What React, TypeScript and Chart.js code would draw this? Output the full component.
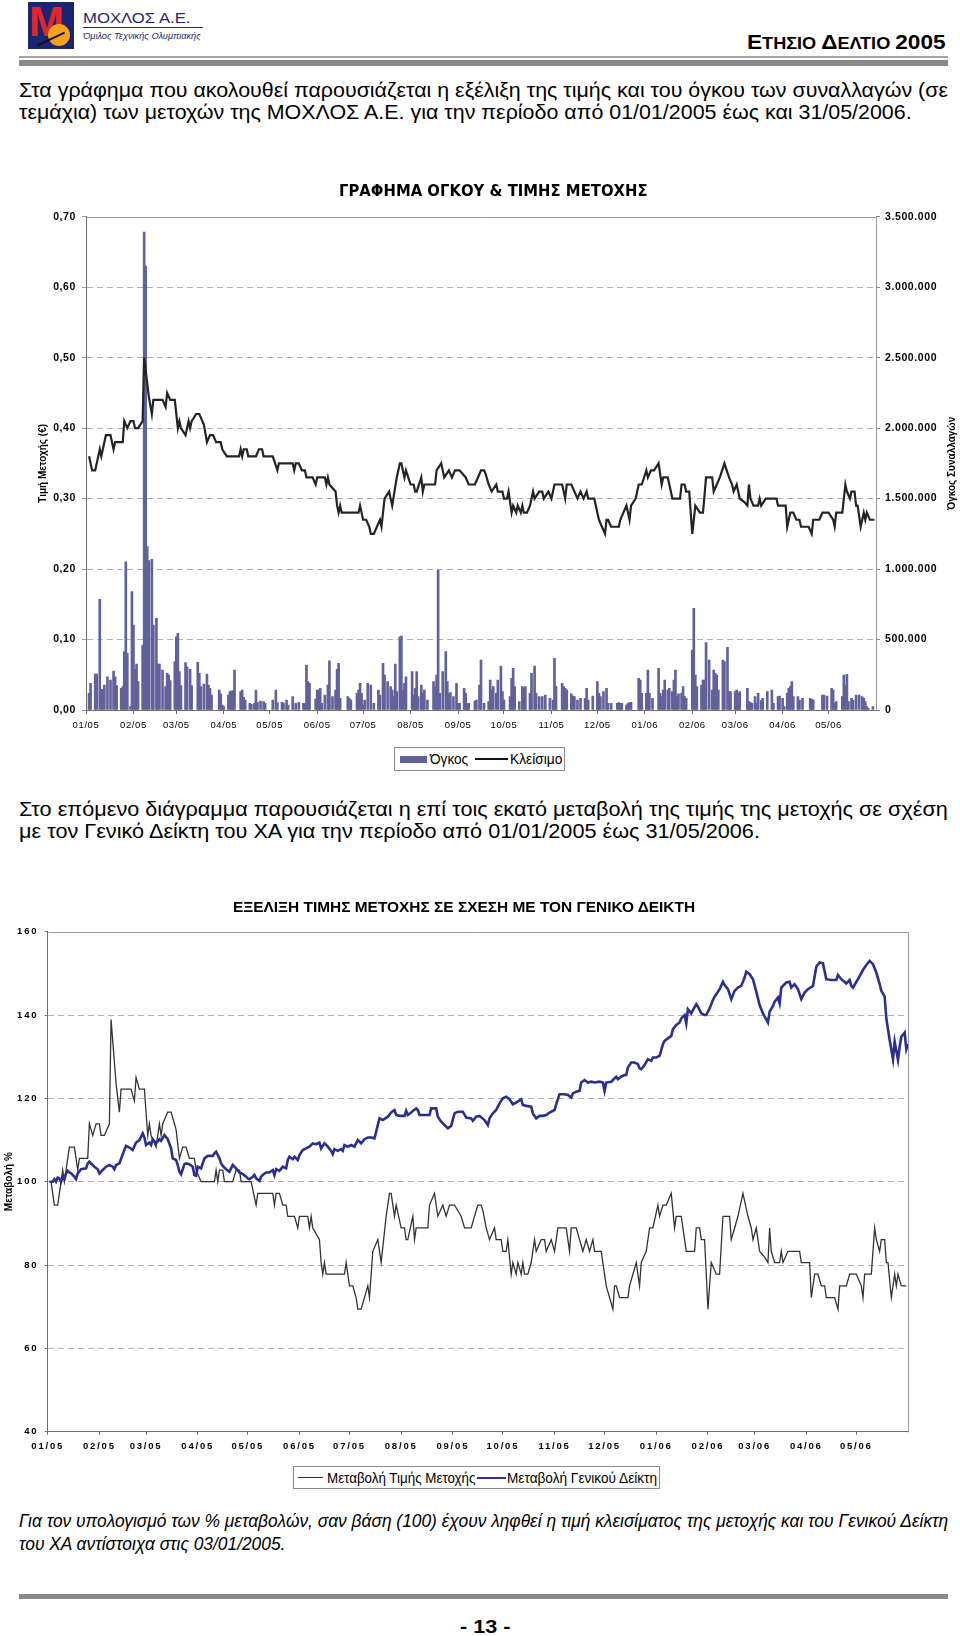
import React, { useEffect, useLayoutEffect, useRef, useState } from 'react';
import { Chart, registerables } from 'chart.js';

Chart.register(...registerables);

// ---------- DATA (days = calendar days since 01/01/2005) ----------
const monthLabels = ['01/05', '02/05', '03/05', '04/05', '05/05', '06/05', '07/05', '08/05', '09/05', '10/05', '11/05', '12/05', '01/06', '02/06', '03/06', '04/06', '05/06'];

const priceDays = [
  2, 4, 6, 9, 10, 13, 16, 18, 19, 24,
  25, 27, 29, 31, 32, 34, 37, 38, 41, 43,
  44, 50, 52, 53, 55, 58, 60, 61, 62, 65,
  67, 68, 69, 72, 74, 76, 77, 79, 81, 83,
  85, 88, 89, 92, 100, 101, 102, 103, 105, 106,
  111, 113, 115, 116, 122, 125, 126, 128, 135, 136,
  137, 139, 141, 143, 144, 148, 150, 151, 156, 157,
  158, 159, 163, 164, 165, 166, 167, 178, 179, 181,
  183, 185, 186, 188, 192, 193, 195, 198, 200, 203,
  205, 206, 208, 209, 212, 214, 215, 216, 219, 220,
  221, 228, 229, 232, 234, 237, 239, 241, 244, 248,
  250, 254, 256, 258, 260, 261, 263, 265, 268, 269,
  272, 273, 275, 276, 278, 279, 281, 282, 284, 285,
  286, 288, 290, 292, 293, 296, 298, 299, 302, 304,
  306, 311, 313, 314, 317, 319, 321, 323, 325, 327,
  328, 332, 334, 335, 337, 339, 340, 341, 343, 348,
  349, 351, 353, 355, 356, 359, 361, 363, 366, 367,
  369, 371, 374, 376, 377, 380, 383, 388, 389, 391,
  392, 394, 396, 398, 401, 403, 405, 409, 410, 412,
  414, 417, 420, 422, 423, 425, 426, 427, 430, 432,
  433, 434, 436, 439, 440, 441, 444, 451, 452, 457,
  458, 460, 462, 464, 466, 467, 472, 474, 475, 479,
  481, 485, 488, 489, 490, 494, 496, 497, 499, 500,
  502, 503, 504, 506, 508, 509, 510, 512, 515,
];
const closePrice = [
  0.36, 0.34, 0.34, 0.37, 0.36, 0.39, 0.39, 0.37, 0.38, 0.38,
  0.41, 0.40, 0.41, 0.41, 0.40, 0.40, 0.41, 0.50, 0.445, 0.42,
  0.44, 0.44, 0.43, 0.45, 0.44, 0.44, 0.40, 0.41, 0.40, 0.39,
  0.41, 0.40, 0.41, 0.42, 0.42, 0.41, 0.405, 0.38, 0.39, 0.39,
  0.38, 0.38, 0.37, 0.36, 0.36, 0.37, 0.36, 0.37, 0.37, 0.36,
  0.36, 0.37, 0.37, 0.36, 0.36, 0.34, 0.35, 0.35, 0.35, 0.34,
  0.35, 0.35, 0.34, 0.34, 0.33, 0.33, 0.32, 0.33, 0.33, 0.32,
  0.33, 0.32, 0.31, 0.29, 0.28, 0.29, 0.28, 0.28, 0.29, 0.27,
  0.27, 0.26, 0.25, 0.25, 0.27, 0.26, 0.30, 0.31, 0.29, 0.33,
  0.35, 0.35, 0.33, 0.34, 0.32, 0.32, 0.31, 0.31, 0.33, 0.31,
  0.32, 0.32, 0.34, 0.35, 0.33, 0.34, 0.33, 0.34, 0.34, 0.33,
  0.32, 0.32, 0.33, 0.34, 0.34, 0.335, 0.32, 0.31, 0.32, 0.31,
  0.31, 0.30, 0.30, 0.31, 0.28, 0.29, 0.28, 0.29, 0.28, 0.29,
  0.28, 0.28, 0.29, 0.31, 0.30, 0.31, 0.31, 0.30, 0.31, 0.30,
  0.32, 0.32, 0.30, 0.32, 0.32, 0.31, 0.30, 0.31, 0.30, 0.31,
  0.30, 0.30, 0.28, 0.27, 0.26, 0.25, 0.27, 0.27, 0.26, 0.26,
  0.27, 0.28, 0.29, 0.27, 0.29, 0.30, 0.32, 0.32, 0.34, 0.33,
  0.34, 0.34, 0.35, 0.32, 0.33, 0.33, 0.30, 0.30, 0.32, 0.32,
  0.31, 0.31, 0.25, 0.29, 0.28, 0.28, 0.33, 0.33, 0.31, 0.32,
  0.33, 0.35, 0.33, 0.32, 0.31, 0.32, 0.31, 0.30, 0.295, 0.29,
  0.32, 0.30, 0.29, 0.29, 0.30, 0.29, 0.30, 0.30, 0.29, 0.29,
  0.26, 0.28, 0.28, 0.27, 0.27, 0.26, 0.26, 0.25, 0.27, 0.27,
  0.28, 0.28, 0.27, 0.26, 0.28, 0.28, 0.32, 0.31, 0.30, 0.31,
  0.31, 0.29, 0.29, 0.26, 0.28, 0.27, 0.28, 0.27, 0.27,
];

const volDays = [
  2, 3, 6, 7, 9, 10, 11, 12, 14, 16,
  18, 19, 20, 23, 24, 25, 26, 27, 29, 30,
  31, 32, 33, 34, 37, 38, 39, 40, 41, 43,
  44, 46, 47, 48, 50, 52, 53, 54, 55, 58,
  59, 60, 61, 62, 65, 66, 68, 69, 73, 74,
  75, 77, 79, 80, 81, 82, 87, 88, 89, 90,
  93, 94, 95, 96, 97, 101, 102, 103, 104, 107,
  108, 110, 111, 112, 114, 116, 117, 122, 124, 125,
  128, 129, 131, 132, 135, 137, 139, 142, 143, 144,
  145, 146, 150, 151, 152, 153, 154, 156, 158, 159,
  161, 163, 164, 165, 166, 171, 172, 173, 177, 178,
  179, 180, 181, 182, 184, 186, 188, 191, 192, 194,
  195, 197, 199, 200, 201, 202, 203, 205, 206, 207,
  208, 209, 213, 214, 215, 216, 217, 219, 220, 221,
  223, 227, 228, 229, 230, 231, 233, 235, 236, 237,
  238, 240, 242, 243, 244, 247, 248, 249, 250, 254,
  255, 257, 258, 260, 263, 264, 265, 266, 268, 269,
  271, 272, 273, 277, 278, 279, 280, 283, 285, 286,
  287, 290, 291, 293, 294, 296, 298, 300, 303, 305,
  306, 307, 311, 312, 313, 314, 317, 318, 319, 321,
  323, 326, 327, 328, 331, 334, 335, 336, 338, 340,
  341, 343, 347, 348, 349, 350, 353, 354, 355, 356,
  361, 362, 363, 366, 367, 368, 370, 374, 375, 376,
  377, 378, 380, 381, 383, 384, 385, 386, 387, 389,
  390, 391, 392, 396, 397, 398, 399, 402, 403, 404,
  405, 407, 409, 410, 411, 412, 413, 416, 417, 419,
  420, 421, 424, 425, 426, 427, 432, 433, 434, 435,
  437, 438, 439, 441, 442, 445, 448, 449, 452, 453,
  455, 456, 458, 459, 460, 461, 462, 465, 466, 468,
  473, 474, 475, 481, 482, 484, 487, 488, 489, 490,
  494, 495, 496, 497, 498, 500, 501, 503, 505, 507,
  508, 509, 510, 511, 514,
];
const volume = [
  118000, 189000, 255000, 255000, 785000, 147000, 147000, 177000, 236000, 213000,
  277000, 236000, 173000, 154000, 166000, 414000, 1052000, 402000, 24000, 840000,
  603000, 289000, 326000, 201000, 461000, 3390000, 3150000, 1160000, 1060000, 1069000,
  603000, 650000, 326000, 326000, 284000, 166000, 260000, 248000, 208000, 343000,
  520000, 544000, 272000, 173000, 336000, 307000, 289000, 173000, 338000, 260000,
  166000, 184000, 255000, 177000, 154000, 106000, 142000, 114000, 35000, 24000,
  106000, 130000, 135000, 137000, 284000, 130000, 142000, 90000, 71000, 47000,
  40000, 47000, 142000, 52000, 64000, 59000, 47000, 71000, 142000, 52000,
  54000, 47000, 71000, 35000, 95000, 47000, 54000, 47000, 43000, 319000,
  201000, 189000, 78000, 142000, 142000, 154000, 47000, 106000, 177000, 348000,
  95000, 142000, 289000, 331000, 83000, 95000, 83000, 71000, 118000, 142000,
  189000, 118000, 35000, 71000, 189000, 177000, 47000, 142000, 106000, 331000,
  248000, 201000, 166000, 142000, 95000, 326000, 130000, 520000, 525000, 142000,
  189000, 236000, 272000, 106000, 154000, 272000, 95000, 177000, 118000, 142000,
  71000, 201000, 166000, 248000, 993000, 118000, 272000, 414000, 201000, 118000,
  123000, 95000, 189000, 47000, 47000, 154000, 118000, 47000, 47000, 64000,
  71000, 177000, 355000, 47000, 59000, 213000, 142000, 166000, 118000, 213000,
  312000, 130000, 71000, 95000, 225000, 296000, 166000, 59000, 166000, 158000,
  166000, 118000, 260000, 312000, 118000, 95000, 95000, 106000, 83000, 71000,
  367000, 166000, 189000, 166000, 154000, 142000, 114000, 99000, 95000, 71000,
  83000, 83000, 154000, 71000, 99000, 201000, 118000, 95000, 130000, 154000,
  47000, 47000, 47000, 52000, 47000, 47000, 35000, 47000, 52000, 54000,
  225000, 213000, 118000, 118000, 284000, 118000, 83000, 296000, 118000, 95000,
  142000, 213000, 142000, 154000, 130000, 213000, 284000, 95000, 114000, 118000,
  166000, 95000, 83000, 426000, 721000, 248000, 166000, 177000, 213000, 213000,
  478000, 355000, 142000, 284000, 260000, 248000, 142000, 355000, 343000, 445000,
  130000, 130000, 130000, 142000, 118000, 130000, 154000, 59000, 52000, 47000,
  95000, 47000, 118000, 66000, 83000, 130000, 142000, 47000, 95000, 99000,
  83000, 24000, 118000, 154000, 166000, 201000, 95000, 95000, 71000, 83000,
  83000, 76000, 71000, 106000, 106000, 99000, 154000, 142000, 47000, 59000,
  95000, 248000, 177000, 253000, 59000, 83000, 71000, 106000, 106000, 95000,
  83000, 59000, 24000, 12000, 24000,
];

const indexDays = [
  1, 3, 4, 5, 6, 7, 8, 9, 10, 11,
  12, 13, 14, 16, 17, 18, 20, 23, 24, 25,
  26, 28, 30, 31, 33, 35, 37, 39, 40, 41,
  43, 45, 47, 49, 51, 53, 55, 57, 58, 59,
  61, 62, 63, 65, 67, 68, 70, 72, 74, 75,
  77, 78, 79, 80, 82, 83, 85, 87, 88, 89,
  90, 92, 93, 94, 96, 99, 100, 101, 103, 104,
  105, 107, 109, 111, 113, 115, 117, 119, 120, 121,
  123, 124, 125, 127, 128, 129, 131, 133, 135, 136,
  137, 139, 141, 143, 144, 145, 147, 148, 150, 151,
  153, 155, 157, 159, 161, 163, 164, 166, 168, 170,
  171, 172, 174, 176, 177, 178, 180, 182, 184, 186,
  188, 190, 192, 194, 196, 199, 201, 204, 206, 208,
  209, 211, 214, 215, 216, 218, 219, 221, 222, 223,
  227, 229, 230, 233, 234, 236, 238, 240, 242, 244,
  246, 249, 251, 254, 255, 257, 259, 262, 264, 265,
  267, 269, 271, 273, 275, 277, 279, 281, 284, 285,
  287, 290, 291, 293, 295, 297, 299, 301, 304, 305,
  307, 310, 312, 314, 315, 317, 319, 320, 322, 324,
  326, 328, 331, 333, 334, 335, 338, 339, 341, 342,
  344, 346, 347, 348, 350, 352, 354, 355, 356, 358,
  360, 362, 363, 365, 367, 369, 370, 372, 374, 375,
  377, 379, 380, 382, 383, 384, 386, 387, 389, 390,
  392, 394, 395, 397, 399, 400, 402, 403, 405, 406,
  408, 410, 412, 414, 416, 418, 419, 421, 423, 425,
  427, 429, 432, 433, 435, 436, 438, 439, 440, 443,
  445, 446, 448, 450, 452, 454, 456, 459, 461, 463,
  465, 467, 470, 473, 474, 476, 479, 481, 482, 483,
  486, 489, 491, 493, 495, 497, 499, 500, 502, 503,
  505, 507, 508, 510, 511, 512, 514, 515, 516,
];
const indexChange = [
  100, 100, 100.6, 100, 101, 100.8, 100, 101.2, 100.6, 102,
  102.6, 102.2, 102, 101.2, 100.6, 102, 103, 103.2, 104.4, 104.8,
  104.4, 103.6, 103, 102, 102.8, 103.6, 104, 103.6, 103, 104,
  104.4, 106.6, 108.6, 108.2, 107.6, 109.4, 110, 111.6, 110.6, 108.8,
  109.4, 108.8, 110.2, 109.2, 110.2, 109.8, 111.2, 110.2, 108, 105.6,
  105.2, 104, 102.4, 101.8, 104.2, 104.4, 104.2, 103.6, 101.6, 101.4,
  103.6, 103.2, 104.4, 105.6, 106.2, 106.2, 106.8, 107.2, 105.6, 104.4,
  103.8, 103, 102.4, 104, 103.2, 102.2, 101.8, 101.2, 100.8, 100.6,
  101.2, 101.6, 100.8, 100.2, 101.2, 101.6, 102.2, 102.2, 102.8, 101.6,
  103, 102.6, 103.6, 103.2, 105.2, 106, 105.4, 106, 105.2, 106.4,
  107.6, 108, 108.4, 109.2, 109, 109.4, 108, 109.2, 108.4, 107.4,
  106.6, 107.8, 107.4, 107.8, 107.4, 108.8, 108.4, 108.8, 108.4, 110,
  109.2, 110.2, 110.6, 110.6, 110.4, 115.2, 114.8, 115.6, 116.6, 117.2,
  116, 115.8, 115.8, 117, 116, 116.6, 117, 117.6, 117.2, 116,
  116, 116, 117.6, 117.6, 115.6, 114.4, 113.6, 112.8, 113.4, 116.4,
  116.8, 116.8, 115.4, 115.2, 114.6, 115.6, 115.8, 114.8, 113.6, 115.2,
  116.4, 117.2, 118.8, 120, 120.4, 119.8, 118.6, 119, 119.8, 118.4,
  118.2, 118, 116.4, 115.2, 115.8, 115.8, 116, 116.6, 117.2, 118.6,
  121, 121, 120.8, 120.2, 121.2, 121.6, 121.8, 123.8, 124.4, 123.8,
  124, 123.8, 124, 123.8, 121.8, 123.8, 124, 124.4, 125.2, 124.6,
  125.2, 125.6, 125.6, 127.4, 128.6, 128.6, 128.2, 127.2, 127, 128,
  129.4, 129, 129.8, 129.8, 130.2, 133, 133.8, 134.4, 135, 136.6,
  137.6, 138.2, 139.2, 140, 138, 141.4, 140.4, 141.2, 142.6, 142,
  140.4, 140, 140, 141.6, 143.6, 144.4, 145.6, 146.2, 148, 147.2,
  146.2, 143.8, 145.8, 146.6, 147, 149, 150.4, 149.8, 148.6, 145.6,
  142.4, 140.4, 138.2, 140.8, 142.2, 143.2, 144.2, 142.8, 146.6, 147.8,
  148, 146.6, 147.4, 146.2, 143.8, 145.4, 146.2, 147, 151.6, 152.6,
  152.4, 148.6, 148.4, 148.4, 149.6, 148.6, 147.6, 148.4, 147, 146.6,
  148.6, 150.8, 152, 153, 152.2, 150.2, 147.4, 145.8, 144.4, 139.2,
  134, 129.4, 133.6, 129.2, 132.4, 134.8, 135.8, 131.8, 133,
];

// Share price change, base 100 = closing price of 03/01/2005 (first close)
const stockChange = closePrice.map((p) => Math.round((p / closePrice[0]) * 1000) / 10);

// ---------- helpers ----------
const dayOf = (label: string) => {
  const [m, y] = label.split('/').map(Number);
  return Math.round((Date.UTC(2000 + y, m - 1, 1) - Date.UTC(2005, 0, 1)) / 86400000);
};
const monthDays = monthLabels.map(dayOf);
const X_MAX = dayOf('06/06');

const SANS = "'Liberation Sans', Arial, Helvetica, sans-serif";
const DEJAVU = "'DejaVu Sans', Verdana, sans-serif";
const thousands = (v: number) => String(Math.round(v)).replace(/\B(?=(\d{3})+(?!\d))/g, '.');

function makeDeco(cfg: any) {
  return {
    id: 'deco',
    beforeLayout(chart: any) { chart.ctx.letterSpacing = cfg.spacing; },
    beforeDraw(chart: any) { chart.ctx.letterSpacing = cfg.spacing; },
    beforeDatasetsDraw(chart: any) {
      const { ctx, chartArea: a } = chart;
      ctx.save();
      ctx.strokeStyle = cfg.frame;
      ctx.lineWidth = 1;
      const l = Math.round(a.left) + 0.5;
      const t = Math.round(a.top) + 0.5;
      const r = Math.round(a.right) + 0.5;
      const b = Math.round(a.bottom) + 0.5;
      ctx.beginPath();
      ctx.moveTo(l, t);
      ctx.lineTo(r, t);
      ctx.lineTo(r, b);
      ctx.stroke();
      ctx.restore();
    },
    afterDraw(chart: any) {
      const { ctx, chartArea: a } = chart;
      const mid = (a.top + a.bottom) / 2;
      cfg.titles.forEach((t: any) => {
        ctx.save();
        ctx.letterSpacing = '0px';
        ctx.translate(t.side === 'left' ? a.left - t.offset : a.right + t.offset, mid);
        ctx.rotate(-Math.PI / 2);
        ctx.font = t.font;
        ctx.fillStyle = '#000';
        ctx.textAlign = 'center';
        ctx.textBaseline = 'middle';
        ctx.fillText(t.text, 0, 0);
        ctx.restore();
      });
    },
  };
}

function monthAxis(cfg: any) {
  return {
    type: 'linear',
    min: 0,
    max: X_MAX,
    offset: false,
    afterBuildTicks: (s: any) => { s.ticks = monthDays.map((v) => ({ value: v })); },
    afterFit: (s: any) => { s.height = cfg.height; },
    ticks: {
      autoSkip: false, maxRotation: 0, minRotation: 0,
      callback: (_v: any, i: number) => monthLabels[i],
      font: cfg.font, color: '#000', padding: cfg.padding,
    },
    grid: { display: true, drawOnChartArea: false, drawTicks: true, tickLength: cfg.tickLength, tickColor: '#666', offset: false },
    border: { display: true, color: '#6e6e6e', width: 1 },
  };
}

function volumeConfig(): any {
  return {
    type: 'line',
    data: {
      datasets: [
        {
          type: 'line', label: 'Κλείσιμο', yAxisID: 'y', order: 0,
          data: priceDays.map((d, i) => ({ x: d, y: closePrice[i] })),
          borderColor: '#242424', borderWidth: 2.2, pointRadius: 0, tension: 0, fill: false,
        },
        {
          type: 'bar', label: 'Όγκος', yAxisID: 'y1', order: 1,
          data: volDays.map((d, i) => ({ x: d, y: volume[i] })),
          backgroundColor: '#62629b', barThickness: 2,
        },
      ],
    },
    options: {
      responsive: false, animation: false, devicePixelRatio: 1,
      layout: { padding: { top: 16.7, left: 0, right: 0, bottom: 0 } },
      plugins: { legend: { display: false }, tooltip: { enabled: false }, title: { display: false } },
      scales: {
        x: monthAxis({ height: 35, font: { family: SANS, size: 9.5 }, padding: 5.3, tickLength: 4 }),
        y: {
          position: 'left', min: 0, max: 0.7,
          afterFit: (s: any) => { s.width = 86; },
          ticks: { stepSize: 0.1, callback: (v: any) => Number(v).toFixed(2).replace('.', ','), font: { family: SANS, size: 10.5, weight: 'bold' }, color: '#000', padding: 6 },
          grid: {
            color: (c: any) => (c.tick && (c.tick.value < 0.001 || c.tick.value > 0.699) ? 'rgba(0,0,0,0)' : '#b2b2b2'),
            tickColor: '#999', tickLength: 4,
          },
          border: { display: true, color: '#6e6e6e', dash: [6, 4] },
        },
        y1: {
          position: 'right', min: 0, max: 3500000,
          afterFit: (s: any) => { s.width = 84; },
          ticks: { stepSize: 500000, callback: (v: any) => thousands(Number(v)), font: { family: SANS, size: 10.5, weight: 'bold' }, color: '#000', padding: 5 },
          grid: { drawOnChartArea: false, tickColor: '#888', tickLength: 4 },
          border: { display: true, color: '#8a8a8a' },
        },
      },
    },
    plugins: [makeDeco({
      spacing: '0.6px', frame: '#9a9a9a',
      titles: [
        { side: 'left', offset: 43, text: 'Τιμή Μετοχής (€)', font: `bold 10px ${SANS}` },
        { side: 'right', offset: 76, text: 'Όγκος Συναλλαγών', font: `bold 10px ${SANS}` },
      ],
    })],
  };
}

function changeConfig(): any {
  return {
    type: 'line',
    data: {
      datasets: [
        {
          label: 'Μεταβολή Τιμής Μετοχής', order: 1,
          data: priceDays.map((d, i) => ({ x: d, y: stockChange[i] })),
          borderColor: '#333333', borderWidth: 1.3, pointRadius: 0, tension: 0, fill: false,
        },
        {
          label: 'Μεταβολή Γενικού Δείκτη', order: 0,
          data: indexDays.map((d, i) => ({ x: d, y: indexChange[i] })),
          borderColor: '#2d2f8c', borderWidth: 2.6, pointRadius: 0, tension: 0, fill: false,
        },
      ],
    },
    options: {
      responsive: false, animation: false, devicePixelRatio: 1,
      layout: { padding: { top: 31.7, left: 0, right: 52, bottom: 0 } },
      plugins: { legend: { display: false }, tooltip: { enabled: false }, title: { display: false } },
      scales: {
        x: monthAxis({ height: 28.3, font: { family: SANS, size: 9.5, weight: 'bold' }, padding: 5.6, tickLength: 3 }),
        y: {
          position: 'left', min: 40, max: 160,
          afterFit: (s: any) => { s.width = 47.7; },
          ticks: { stepSize: 20, callback: (v: any) => String(v), font: { family: SANS, size: 9.5, weight: 'bold' }, color: '#000', padding: 6.4 },
          grid: {
            color: (c: any) => (c.tick && (c.tick.value <= 40 || c.tick.value >= 160) ? 'rgba(0,0,0,0)' : '#b2b2b2'),
            tickColor: '#777', tickLength: 3,
          },
          border: { display: true, color: '#6e6e6e', dash: [6, 4] },
        },
      },
    },
    plugins: [makeDeco({
      spacing: '1.8px', frame: '#9a9a9a',
      titles: [{ side: 'left', offset: 38.7, text: 'Μεταβολή %', font: `bold 10px ${SANS}` }],
    })],
  };
}

function ChartCanvas({ top, height, build }: any) {
  const ref = useRef<HTMLCanvasElement>(null);
  useEffect(() => {
    const chart = new Chart(ref.current as HTMLCanvasElement, build());
    return () => chart.destroy();
  }, []);
  return <canvas ref={ref} width={960} height={height} style={{ position: 'absolute', left: 0, top, width: 960, height }} />;
}

function FitText({ children, x, cy, w, size, weight = 400, italic = false, color = '#000', anchor = 'left', family = SANS }: any) {
  const ref = useRef<HTMLSpanElement>(null);
  const [s, setS] = useState(1);
  useLayoutEffect(() => {
    if (ref.current && w) {
      const nw = ref.current.offsetWidth;
      if (nw > 0) setS(w / nw);
    }
  }, [w, size]);
  const lh = Math.round(size * 1.3);
  const left = anchor === 'left' ? x : anchor === 'right' ? x - w : x - w / 2;
  return (
    <span ref={ref} style={{
      position: 'absolute', left, top: cy - lh / 2, lineHeight: `${lh}px`, fontSize: size, fontWeight: weight,
      fontStyle: italic ? 'italic' : 'normal', fontFamily: family, color, whiteSpace: 'nowrap',
      transform: `scaleX(${s})`, transformOrigin: '0 50%',
    }}>{children}</span>
  );
}

function Para({ lines, x, cys, w, size, italic = false }: any) {
  const r0 = useRef<HTMLSpanElement>(null);
  const [s, setS] = useState(1);
  useLayoutEffect(() => {
    if (r0.current) { const nw = r0.current.offsetWidth; if (nw > 0) setS(w / nw); }
  }, [w, size]);
  const lh = Math.round(size * 1.2);
  return (
    <>
      {lines.map((t: string, i: number) => (
        <span key={i} ref={i === 0 ? r0 : undefined} style={{
          position: 'absolute', left: x, top: cys[i] - lh / 2, lineHeight: `${lh}px`, fontSize: size,
          fontFamily: SANS, fontStyle: italic ? 'italic' : 'normal', color: '#000', whiteSpace: 'nowrap',
          transform: `scaleX(${s})`, transformOrigin: '0 50%',
        }}>{t}</span>
      ))}
    </>
  );
}

const abs = (l: number, t: number, w: number, h: number, extra: any = {}) => ({ position: 'absolute' as const, left: l, top: t, width: w, height: h, ...extra });

export default function App() {
  return (
    <div style={{ position: 'absolute', left: 0, top: 0, width: 960, height: 1636, background: '#fff', overflow: 'hidden' }}>
      {/* Header */}
      <div style={abs(28, 2, 46, 47, { background: '#1b2470', overflow: 'hidden' })}>
        <div style={{ position: 'absolute', left: 1, top: -5, fontSize: 42, fontWeight: 700, color: '#e3262b', fontFamily: SANS, lineHeight: '50px' }}>M</div>
        <div style={abs(20, 22, 22, 22, { borderRadius: '50%', background: '#f4a11f' })} />
        <div style={abs(8, 36, 30, 2, { background: '#111', transform: 'rotate(-25deg)' })} />
      </div>
      <FitText x={83} cy={18} w={108} size={15} color="#1d2a6e">ΜΟΧΛΟΣ Α.Ε.</FitText>
      <div style={abs(83, 27, 120, 1, { background: '#1d2a6e' })} />
      <FitText x={83} cy={36} w={118} size={9} italic color="#1d2a6e">Όμιλος Τεχνικής Ολυμπιακής</FitText>
      <FitText x={946} cy={42} w={199} size={20} weight={700} anchor="right">
        <span>Ε</span><span style={{ fontSize: 16 }}>ΤΗΣΙΟ </span><span>Δ</span><span style={{ fontSize: 16 }}>ΕΛΤΙΟ </span><span>2005</span>
      </FitText>
      <div style={abs(19, 56, 929, 2, { background: '#a4a4a4' })} />
      <div style={abs(19, 60, 929, 6, { background: '#8a8a8a' })} />

      <Para
        x={19} cys={[89, 111]} w={929} size={21}
        lines={[
          'Στα γράφημα που ακολουθεί παρουσιάζεται η εξέλιξη της τιμής και του όγκου των συναλλαγών (σε',
          'τεμάχια) των μετοχών της ΜΟΧΛΟΣ Α.Ε. για την περίοδο από 01/01/2005 έως και 31/05/2006.',
        ]}
      />

      {/* Chart 1 */}
      <ChartCanvas top={200} height={545} build={volumeConfig} />
      <FitText x={339} cy={191} w={309} size={15} weight={700} family={DEJAVU}>ΓΡΑΦΗΜΑ ΟΓΚΟΥ &amp; ΤΙΜΗΣ ΜΕΤΟΧΗΣ</FitText>
      <div style={abs(394, 747, 171, 24, { border: '1px solid #8c8c8c', boxSizing: 'border-box' })} />
      <div style={abs(400, 756, 27, 7, { background: '#62629b' })} />
      <FitText x={430} cy={759} w={38} size={14}>Όγκος</FitText>
      <div style={abs(475, 758, 33, 1.6, { background: '#111' })} />
      <FitText x={510} cy={759} w={52} size={14}>Κλείσιμο</FitText>

      <Para
        x={19} cys={[808, 830]} w={929} size={21}
        lines={[
          'Στο επόμενο διάγραμμα παρουσιάζεται η επί τοις εκατό μεταβολή της τιμής της μετοχής σε σχέση',
          'με τον Γενικό Δείκτη του ΧΑ για την περίοδο από 01/01/2005 έως 31/05/2006.',
        ]}
      />

      {/* Chart 2 */}
      <ChartCanvas top={900} height={560} build={changeConfig} />
      <FitText x={233} cy={907.5} w={462} size={14.5} weight={700}>ΕΞΕΛΙΞΗ ΤΙΜΗΣ ΜΕΤΟΧΗΣ ΣΕ ΣΧΕΣΗ ΜΕ ΤΟΝ ΓΕΝΙΚΟ ΔΕΙΚΤΗ</FitText>
      <div style={abs(293, 1466, 367, 23, { border: '1px solid #8c8c8c', boxSizing: 'border-box' })} />
      <div style={abs(298, 1477, 25, 1.3, { background: '#333' })} />
      <FitText x={327} cy={1477.5} w={148} size={14}>Μεταβολή Τιμής Μετοχής</FitText>
      <div style={abs(477, 1476.5, 29, 2, { background: '#2d2f8c' })} />
      <FitText x={507} cy={1477.5} w={150} size={14}>Μεταβολή Γενικού Δείκτη</FitText>

      <Para
        x={19} cys={[1520, 1543]} w={929} size={19} italic
        lines={[
          'Για τον υπολογισμό των % μεταβολών, σαν βάση (100) έχουν ληφθεί η τιμή κλεισίματος της μετοχής και του Γενικού Δείκτη',
          'του ΧΑ αντίστοιχα στις 03/01/2005.',
        ]}
      />

      <div style={abs(19, 1594, 929, 5, { background: '#8a8a8a' })} />
      <FitText x={485} cy={1626} w={50} size={19} weight={700} anchor="center">- 13 -</FitText>
    </div>
  );
}
